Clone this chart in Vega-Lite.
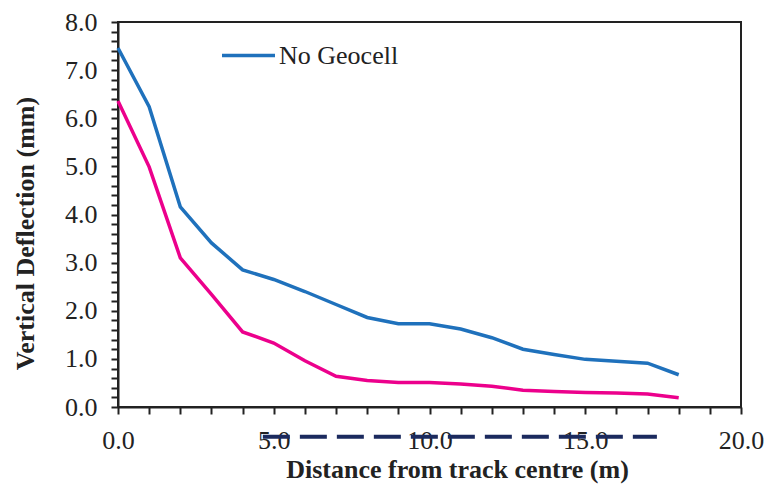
{
  "$schema": "https://vega.github.io/schema/vega-lite/v6.json",
  "width": 623,
  "height": 385,
  "autosize": {"type": "none"},
  "padding": {"left": 118, "top": 22, "right": 24, "bottom": 78},
  "background": "white",
  "config": {
    "view": {"stroke": "#222", "strokeWidth": 2},
    "font": "Liberation Serif"
  },
  "datasets": {
    "series": [
      {"distance": 0, "deflection": 7.46, "case": "No Geocell"},
      {"distance": 1, "deflection": 6.24, "case": "No Geocell"},
      {"distance": 2, "deflection": 4.16, "case": "No Geocell"},
      {"distance": 3, "deflection": 3.41, "case": "No Geocell"},
      {"distance": 4, "deflection": 2.85, "case": "No Geocell"},
      {"distance": 5, "deflection": 2.65, "case": "No Geocell"},
      {"distance": 6, "deflection": 2.4, "case": "No Geocell"},
      {"distance": 7, "deflection": 2.13, "case": "No Geocell"},
      {"distance": 8, "deflection": 1.86, "case": "No Geocell"},
      {"distance": 9, "deflection": 1.73, "case": "No Geocell"},
      {"distance": 10, "deflection": 1.73, "case": "No Geocell"},
      {"distance": 11, "deflection": 1.62, "case": "No Geocell"},
      {"distance": 12, "deflection": 1.44, "case": "No Geocell"},
      {"distance": 13, "deflection": 1.2, "case": "No Geocell"},
      {"distance": 14, "deflection": 1.09, "case": "No Geocell"},
      {"distance": 15, "deflection": 0.99, "case": "No Geocell"},
      {"distance": 16, "deflection": 0.95, "case": "No Geocell"},
      {"distance": 17, "deflection": 0.91, "case": "No Geocell"},
      {"distance": 18, "deflection": 0.67, "case": "No Geocell"},
      {"distance": 0, "deflection": 6.36, "case": "With Geocell"},
      {"distance": 1, "deflection": 4.99, "case": "With Geocell"},
      {"distance": 2, "deflection": 3.1, "case": "With Geocell"},
      {"distance": 3, "deflection": 2.34, "case": "With Geocell"},
      {"distance": 4, "deflection": 1.56, "case": "With Geocell"},
      {"distance": 5, "deflection": 1.33, "case": "With Geocell"},
      {"distance": 6, "deflection": 0.96, "case": "With Geocell"},
      {"distance": 7, "deflection": 0.64, "case": "With Geocell"},
      {"distance": 8, "deflection": 0.55, "case": "With Geocell"},
      {"distance": 9, "deflection": 0.51, "case": "With Geocell"},
      {"distance": 10, "deflection": 0.51, "case": "With Geocell"},
      {"distance": 11, "deflection": 0.48, "case": "With Geocell"},
      {"distance": 12, "deflection": 0.43, "case": "With Geocell"},
      {"distance": 13, "deflection": 0.35, "case": "With Geocell"},
      {"distance": 14, "deflection": 0.32, "case": "With Geocell"},
      {"distance": 15, "deflection": 0.3, "case": "With Geocell"},
      {"distance": 16, "deflection": 0.29, "case": "With Geocell"},
      {"distance": 17, "deflection": 0.27, "case": "With Geocell"},
      {"distance": 18, "deflection": 0.19, "case": "With Geocell"}
    ],
    "dash": [{"start": 4.65, "end": 17.3, "level": -0.62}]
  },
  "layer": [
    {
      "data": {"name": "series"},
      "mark": {"type": "line", "strokeWidth": 3.5, "clip": false},
      "encoding": {
        "x": {
          "field": "distance", "type": "quantitative",
          "scale": {"domain": [0, 20], "nice": false},
          "axis": {
            "title": "Distance from track centre (m)",
            "values": [0,1,2,3,4,5,6,7,8,9,10,11,12,13,14,15,16,17,18,19,20],
            "tickCount": 200,
            "labelExpr": "datum.value % 5 === 0 ? format(datum.value, '.1f') : ''",
            "grid": false,
            "domainColor": "#222", "domainWidth": 2,
            "tickColor": "#222", "tickWidth": 2, "tickSize": 7,
            "labelFont": "Liberation Serif", "labelFontSize": 26, "labelColor": "#222",
            "labelBaseline": "alphabetic",
            "labelPadding": 34, "labelFlush": false, "labelOverlap": false,
            "titleFont": "Liberation Serif", "titleFontSize": 26, "titleFontWeight": "bold", "titleColor": "#222",
            "titleBaseline": "alphabetic",
            "titleX": 339, "titleY": 70,
            "encode": {
              "ticks": {"update": {
                "y": {"signal": "datum.value % 5 === 0 ? -8 : -6"},
                "y2": {"signal": "datum.value % 5 === 0 ? 7 : 0"}
              }}
            }
          }
        },
        "y": {
          "field": "deflection", "type": "quantitative",
          "scale": {"domain": [0, 8], "nice": false},
          "axis": {
            "title": "Vertical Deflection (mm)",
            "values": [0,0.2,0.4,0.6,0.8,1,1.2,1.4,1.6,1.8,2,2.2,2.4,2.6,2.8,3,3.2,3.4,3.6,3.8,4,4.2,4.4,4.6,4.8,5,5.2,5.4,5.6,5.8,6,6.2,6.4,6.6,6.8,7,7.2,7.4,7.6,7.8,8],
            "tickCount": 200,
            "labelExpr": "abs(datum.value - round(datum.value)) < 0.001 ? format(datum.value, '.1f') : ''",
            "grid": false,
            "domainColor": "#222", "domainWidth": 2,
            "tickColor": "#222", "tickWidth": 2, "tickSize": 7,
            "labelFont": "Liberation Serif", "labelFontSize": 26, "labelColor": "#222",
            "labelPadding": 14, "labelFlush": false, "labelOverlap": false,
            "titleFont": "Liberation Serif", "titleFontSize": 26, "titleFontWeight": "bold", "titleColor": "#222",
            "titleBaseline": "alphabetic",
            "titleX": -85, "titleY": 211,
            "encode": {
              "ticks": {"update": {
                "x": {"signal": "abs(datum.value - round(datum.value)) < 0.001 ? 8 : 7"},
                "x2": {"signal": "abs(datum.value - round(datum.value)) < 0.001 ? -7 : 0"}
              }}
            }
          }
        },
        "color": {
          "field": "case", "type": "nominal",
          "scale": {"domain": ["No Geocell", "With Geocell"], "range": ["#1f71bc", "#ec008c"]},
          "legend": {
            "title": null,
            "values": ["No Geocell"],
            "orient": "none",
            "legendX": 102,
            "legendY": 5,
            "padding": 0,
            "symbolType": "stroke",
            "symbolSize": 2809,
            "symbolStrokeWidth": 3.5,
            "labelFont": "Liberation Serif",
            "labelFontSize": 26,
            "labelColor": "#222",
            "labelOffset": 2
          }
        }
      }
    },
    {
      "data": {"name": "dash"},
      "mark": {"type": "rule", "color": "#1b2a5e", "strokeWidth": 4, "strokeDash": [27, 10], "clip": false},
      "encoding": {
        "x": {"field": "start", "type": "quantitative"},
        "x2": {"field": "end"},
        "y": {"field": "level", "type": "quantitative"}
      }
    }
  ]
}
